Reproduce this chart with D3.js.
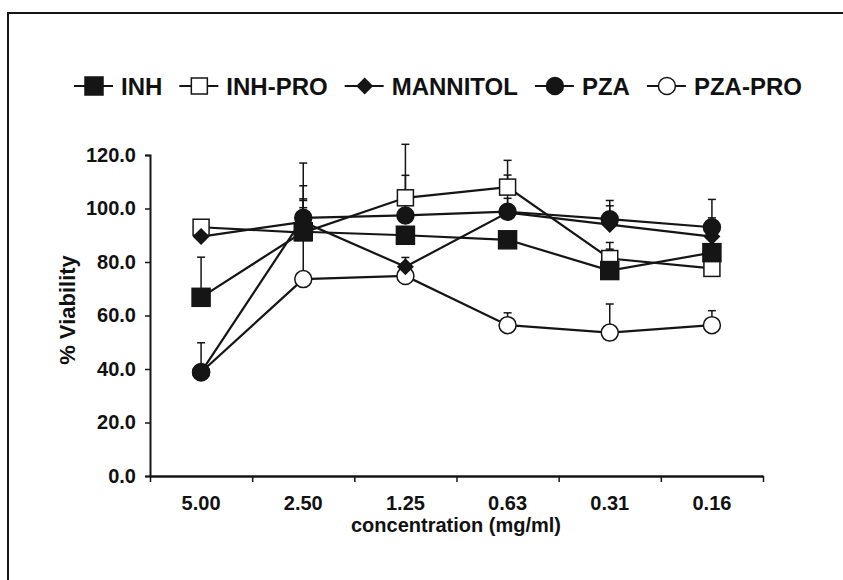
<!DOCTYPE html>
<html>
<head>
<meta charset="utf-8">
<script src="https://cdn.jsdelivr.net/npm/d3@7"></script>
<style>
  body { margin: 0; background: #fff; }
  svg text { font-family: Arial, "Liberation Sans", sans-serif; font-weight: bold; fill: #111; }
</style>
</head>
<body>
<svg id="chart" width="843" height="580"></svg>
<script>
// concentrations (mg/ml)
const categories = ["5.00", "2.50", "1.25", "0.63", "0.31", "0.16"];

const inh        = [66.8, 91.3, 90.0, 88.3, 76.8, 83.5];
const inhSD      = [15, 9, 0, 0, 8, 0];
const inhPro     = [93.0, 91.0, 104.0, 108.0, 81.3, 77.6];
const inhProSD   = [0, 26, 20, 10, 6, 0];
const mannitol   = [89.5, 95.0, 78.2, 98.5, 94.0, 89.5];
const mannitolSD = [0, 8, 3.5, 14, 7, 7];
const pza        = [38.8, 96.5, 97.4, 98.8, 96.0, 93.0];
const pzaSD      = [11, 12, 15, 5, 7, 10.4];
const pzaPro     = [38.8, 73.6, 74.8, 56.4, 53.6, 56.4];
const pzaProSD   = [0, 30, 0, 4.6, 10.7, 5.4];

const yTicks = [0, 20, 40, 60, 80, 100, 120];

const series = [
  {name: "INH", values: inh, sd: inhSD, shape: "square", filled: true},
  {name: "INH-PRO", values: inhPro, sd: inhProSD, shape: "square", filled: false},
  {name: "MANNITOL", values: mannitol, sd: mannitolSD, shape: "diamond", filled: true},
  {name: "PZA", values: pza, sd: pzaSD, shape: "circle", filled: true},
  {name: "PZA-PRO", values: pzaPro, sd: pzaProSD, shape: "circle", filled: false}
];

const ink = "#151515";
const svg = d3.select("#chart");

// scanned page frame
svg.append("path")
  .attr("d", "M8,600 L8,13 L850,13")
  .attr("fill", "none").attr("stroke", ink).attr("stroke-width", 2);

const x = d3.scaleBand().domain(categories).range([150, 763]);
const xEdge = d3.scaleLinear().domain([0, categories.length]).range([150, 763]);
const y = d3.scaleLinear().domain([0, 120]).range([476, 155]);

// y axis
const yAxis = svg.append("g")
  .attr("transform", "translate(150,0)")
  .call(d3.axisLeft(y).tickValues(yTicks).tickFormat(d3.format(".1f")).tickSize(5).tickPadding(9));
yAxis.select(".domain").attr("stroke", ink).attr("stroke-width", 2);
yAxis.selectAll(".tick line").attr("stroke", ink).attr("stroke-width", 1.5);
yAxis.selectAll("text").style("font-size", "20px").attr("fill", ink).attr("font-family", null);

// x axis: boundary ticks + category labels
const xAxis = svg.append("g")
  .attr("transform", "translate(0,476)")
  .call(d3.axisBottom(xEdge).ticks(categories.length).tickFormat("").tickSize(6).tickSizeOuter(0));
xAxis.select(".domain").attr("stroke", ink).attr("stroke-width", 2.5);
xAxis.selectAll(".tick line").attr("stroke", ink).attr("stroke-width", 1.5);

const xLab = svg.append("g")
  .attr("transform", "translate(0,476)")
  .call(d3.axisBottom(x).tickSize(0).tickPadding(20));
xLab.select(".domain").remove();
xLab.selectAll("text").style("font-size", "20px").attr("fill", ink).attr("font-family", null);

// axis titles
svg.append("text")
  .attr("x", 456).attr("y", 532)
  .attr("text-anchor", "middle")
  .style("font-size", "20px")
  .text("concentration (mg/ml)");

svg.append("text")
  .attr("transform", "translate(75,310) rotate(-90)")
  .attr("text-anchor", "middle")
  .style("font-size", "22px")
  .text("% Viability");

function drawMarker(g, shape, filled, cx, cy) {
  const fill = filled ? ink : "#fff";
  if (shape === "square") {
    const s = filled ? 18 : 16;
    g.append("rect")
      .attr("x", cx - s / 2).attr("y", cy - s / 2)
      .attr("width", s).attr("height", s)
      .attr("fill", fill).attr("stroke", ink).attr("stroke-width", 1.5);
  } else if (shape === "diamond") {
    g.append("path")
      .attr("transform", `translate(${cx},${cy}) rotate(45)`)
      .attr("d", d3.symbol().type(d3.symbolSquare).size(110)())
      .attr("fill", fill).attr("stroke", ink).attr("stroke-width", 1.5);
  } else {
    g.append("circle")
      .attr("cx", cx).attr("cy", cy).attr("r", 8.5)
      .attr("fill", fill).attr("stroke", ink).attr("stroke-width", 1.5);
  }
}

const cx = c => x(c) + x.bandwidth() / 2;
const line = d3.line().x((d, i) => cx(categories[i])).y(d => y(d));

const plot = svg.append("g");

// lines
series.forEach(s => {
  plot.append("path")
    .attr("d", line(s.values))
    .attr("fill", "none").attr("stroke", ink).attr("stroke-width", 2.2);
});

// error bars (upper only)
series.forEach(s => {
  s.values.forEach((v, i) => {
    if (!s.sd[i]) return;
    const px = cx(categories[i]);
    plot.append("line")
      .attr("x1", px).attr("x2", px)
      .attr("y1", y(v)).attr("y2", y(v + s.sd[i]))
      .attr("stroke", ink).attr("stroke-width", 1.5);
    plot.append("line")
      .attr("x1", px - 4).attr("x2", px + 4)
      .attr("y1", y(v + s.sd[i])).attr("y2", y(v + s.sd[i]))
      .attr("stroke", ink).attr("stroke-width", 1.5);
  });
});

// markers: open ones first so the filled ones sit on top, as in the scan
const drawOrder = series.filter(s => !s.filled).concat(series.filter(s => s.filled));
drawOrder.forEach(s => {
  s.values.forEach((v, i) => drawMarker(plot, s.shape, s.filled, cx(categories[i]), y(v)));
});

// legend
const legend = svg.append("g").attr("transform", "translate(74,86)");
let lx = 0;
series.forEach(s => {
  const item = legend.append("g").attr("transform", `translate(${lx},0)`);
  item.append("line")
    .attr("x1", 0).attr("x2", 39).attr("y1", 0).attr("y2", 0)
    .attr("stroke", ink).attr("stroke-width", 2);
  drawMarker(item, s.shape, s.filled, 20, 0);
  const t = item.append("text")
    .attr("x", 47).attr("y", 8.5)
    .style("font-size", "24px")
    .text(s.name);
  lx += 47 + t.node().getComputedTextLength() + 17;
});
</script>
</body>
</html>
